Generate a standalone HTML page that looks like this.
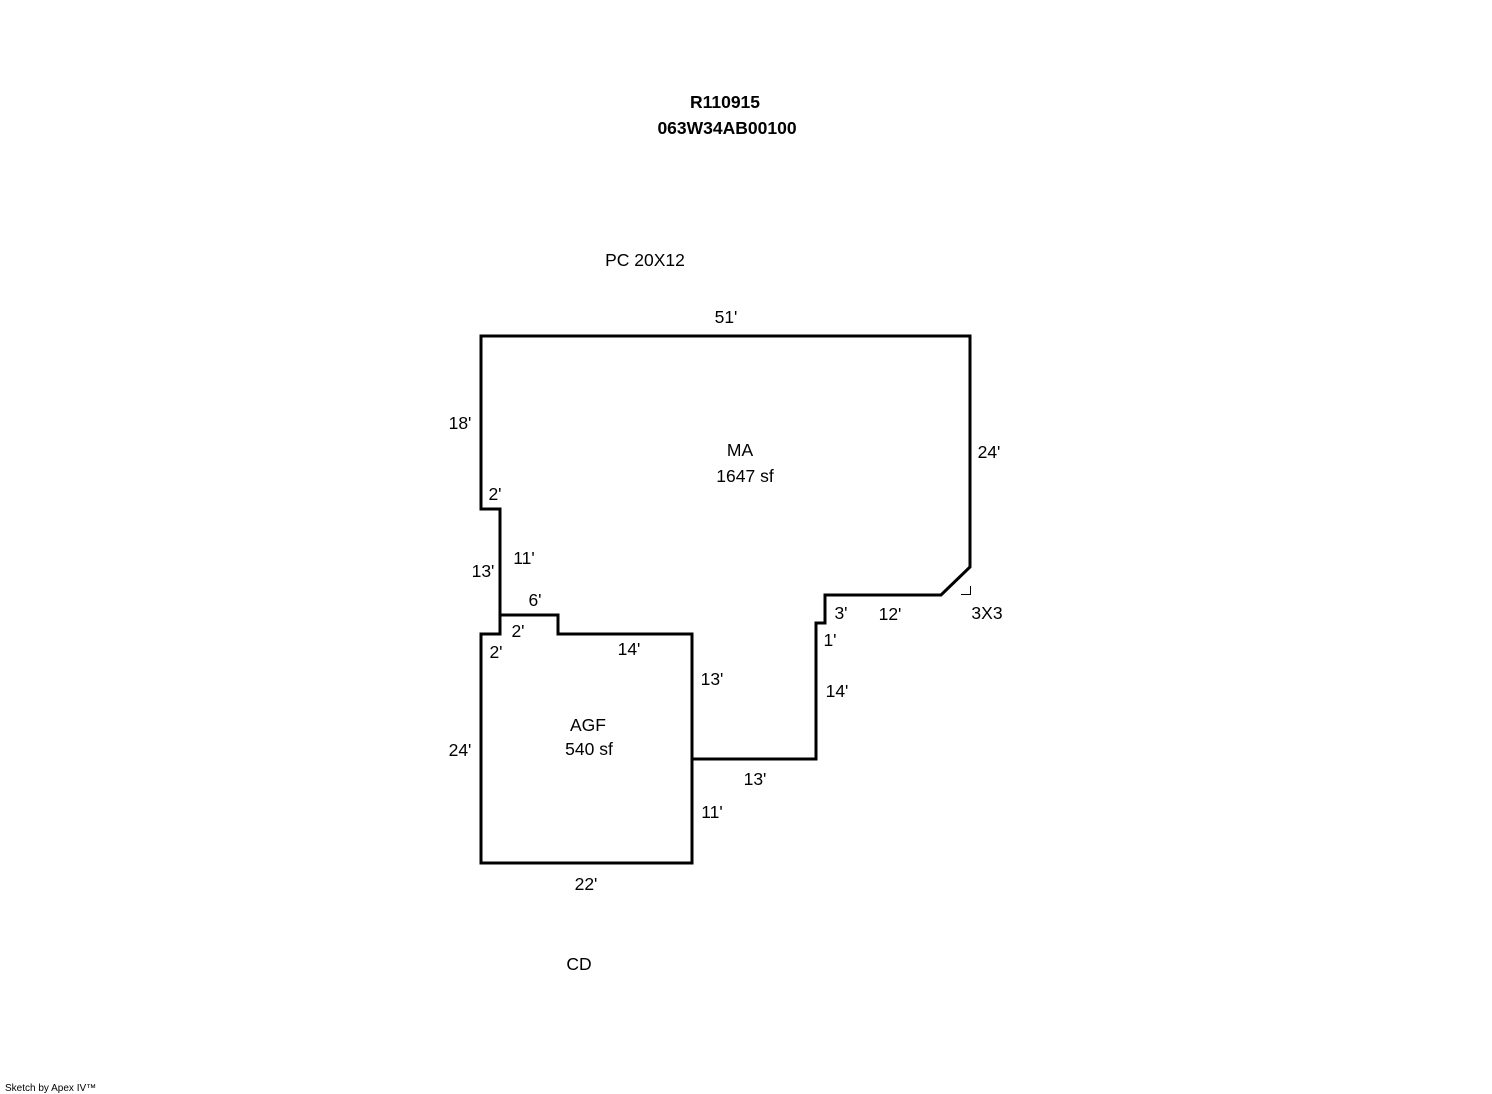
<!DOCTYPE html>
<html><head><meta charset="utf-8"><style>
html,body{margin:0;padding:0;background:#fff;}
svg{display:block;}
text{font-family:"Liberation Sans",Arial,sans-serif;font-size:17.5px;fill:#000;}
</style></head><body>
<svg width="1492" height="1094" viewBox="0 0 1492 1094" xmlns="http://www.w3.org/2000/svg">
<g fill="none" stroke="#000" stroke-width="3" stroke-linejoin="miter">
<polygon points="481,336 970,336 970,567 941,595 825,595 825,623 816,623 816,759 692,759 692,634 558,634 558,615 500,615 500,509 481,509"/>
<polygon points="481,634 500,634 500,615 558,615 558,634 692,634 692,863 481,863"/>
</g>
<path d="M961,594.5 H970.5 V586" fill="none" stroke="#000" stroke-width="1"/>
<g text-anchor="middle">
<text x="725" y="108" font-weight="bold" style="font-size:17.5px">R110915</text>
<text x="727" y="134" font-weight="bold" style="font-size:17.5px">063W34AB00100</text>
<text x="645" y="266">PC 20X12</text>
<text x="726" y="323">51'</text>
<text x="460" y="429">18'</text>
<text x="989" y="458">24'</text>
<text x="740" y="456">MA</text>
<text x="745" y="482">1647 sf</text>
<text x="495" y="500">2'</text>
<text x="524" y="564">11'</text>
<text x="483" y="577">13'</text>
<text x="535" y="606">6'</text>
<text x="518" y="637">2'</text>
<text x="496" y="658">2'</text>
<text x="629" y="655">14'</text>
<text x="712" y="685">13'</text>
<text x="841" y="619">3'</text>
<text x="890" y="620">12'</text>
<text x="987" y="619">3X3</text>
<text x="830" y="646">1'</text>
<text x="837" y="697">14'</text>
<text x="588" y="731">AGF</text>
<text x="589" y="755">540 sf</text>
<text x="460" y="756">24'</text>
<text x="755" y="785">13'</text>
<text x="712" y="818">11'</text>
<text x="586" y="890">22'</text>
<text x="579" y="970">CD</text>
</g>
<text x="5" y="1091" style="font-size:10px">Sketch by Apex IV™</text>
</svg>
</body></html>
